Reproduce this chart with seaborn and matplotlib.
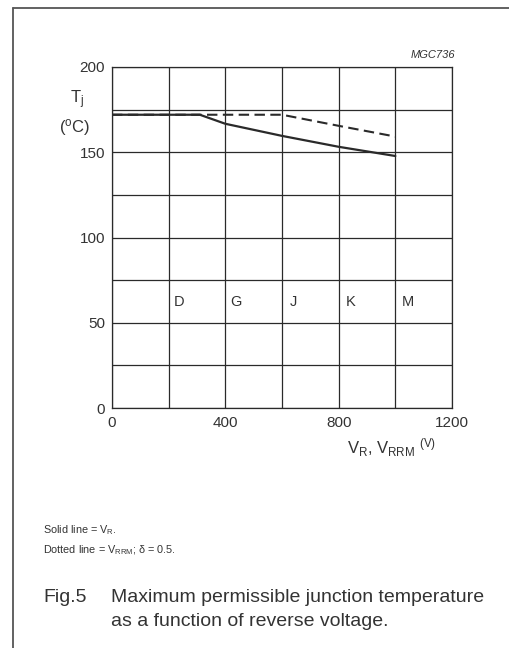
import numpy as np
import pandas as pd
import matplotlib
matplotlib.use("Agg")
import matplotlib.pyplot as plt
from matplotlib.lines import Line2D
from matplotlib.ticker import MultipleLocator
import seaborn as sns

# data
solid_v = [0, 310, 400, 600, 800, 1000]
solid_tj = [172, 172, 166.7, 159.6, 153.2, 147.8]
dashed_v = [0, 310, 600, 800, 1000]
dashed_tj = [172, 172, 172, 165.5, 159.2]

type_letters = ["D", "G", "J", "K", "M"]
letter_v = [236, 437, 641, 842, 1043]
letter_tj = [62, 62, 62, 62, 62]

x_ticks = [0, 400, 800, 1200]
y_ticks = [0, 50, 100, 150, 200]

sns.set_style("white")
plt.rcParams['font.family'] = ['Liberation Sans', 'DejaVu Sans']
plt.rcParams['mathtext.fontset'] = 'custom'
plt.rcParams['mathtext.rm'] = 'Liberation Sans'
plt.rcParams['mathtext.it'] = 'Liberation Sans:italic'

ink = "#2a2a2a"
txt = "#333333"
W, H = 510, 648

fig = plt.figure(figsize=(5.1, 6.48), dpi=100)
ax = fig.add_axes([112 / W, 1 - 408 / H, 340 / W, 341 / H])

solid_df = pd.DataFrame({"v": solid_v, "tj": solid_tj})
dashed_df = pd.DataFrame({"v": dashed_v, "tj": dashed_tj})

sns.lineplot(data=dashed_df, x="v", y="tj", ax=ax, color=ink, lw=1.5,
             estimator=None, sort=False, zorder=3)
ax.lines[-1].set_dashes((5, 2.6))
sns.lineplot(data=solid_df, x="v", y="tj", ax=ax, color=ink, lw=1.6,
             estimator=None, sort=False, zorder=4)

ax.set_xlim(0, 1200)
ax.set_ylim(0, 200)
ax.set_xticks(x_ticks)
ax.set_yticks(y_ticks)
ax.xaxis.set_minor_locator(MultipleLocator(200))
ax.yaxis.set_minor_locator(MultipleLocator(25))
ax.grid(True, which="both", color=ink, lw=0.9)
ax.set_axisbelow(True)
ax.tick_params(which="both", length=0, colors=txt, labelsize=11)
ax.tick_params(axis="y", pad=5)
ax.tick_params(axis="x", pad=6)
for s in ax.spines.values():
    s.set_color(ink)
    s.set_linewidth(0.9)
ax.set_xlabel("")
ax.set_ylabel("")

for lt, lv, ly in zip(type_letters, letter_v, letter_tj):
    ax.text(lv, ly, lt, ha="center", va="center", fontsize=10.5, color=txt)

def ftxt(px, py, s, **kw):
    fig.text(px / W, 1 - py / H, s, color=txt, **kw)

ftxt(77, 100, r"T$_\mathregular{j}$", ha="center", va="center", fontsize=12)
ftxt(75, 128, r"($^\mathregular{o}$C)", ha="center", va="center", fontsize=12)
ftxt(455, 55, "MGC736", ha="right", va="center", fontsize=8, style="italic")
ftxt(347, 448, r"V$_\mathregular{R}$, V$_\mathregular{RRM}$ $^\mathregular{(V)}$",
     ha="left", va="center", fontsize=12)

ftxt(43, 530, r"Solid line = V$_\mathregular{R}$.", ha="left", va="center", fontsize=7.8)
ftxt(43, 550, r"Dotted line = V$_\mathregular{RRM}$; δ = 0.5.", ha="left", va="center", fontsize=7.8)
ftxt(43, 597, "Fig.5", ha="left", va="center", fontsize=14)
ftxt(111, 597, "Maximum permissible junction temperature", ha="left", va="center", fontsize=14)
ftxt(111, 621, "as a function of reverse voltage.", ha="left", va="center", fontsize=14)

# page frame
fig.add_artist(Line2D([13 / W, 1], [1 - 8 / H, 1 - 8 / H], color="#555555", lw=1.3))
fig.add_artist(Line2D([13 / W, 13 / W], [1 - 8 / H, 0], color="#555555", lw=1.3))

fig.savefig("out.png", dpi=100)
